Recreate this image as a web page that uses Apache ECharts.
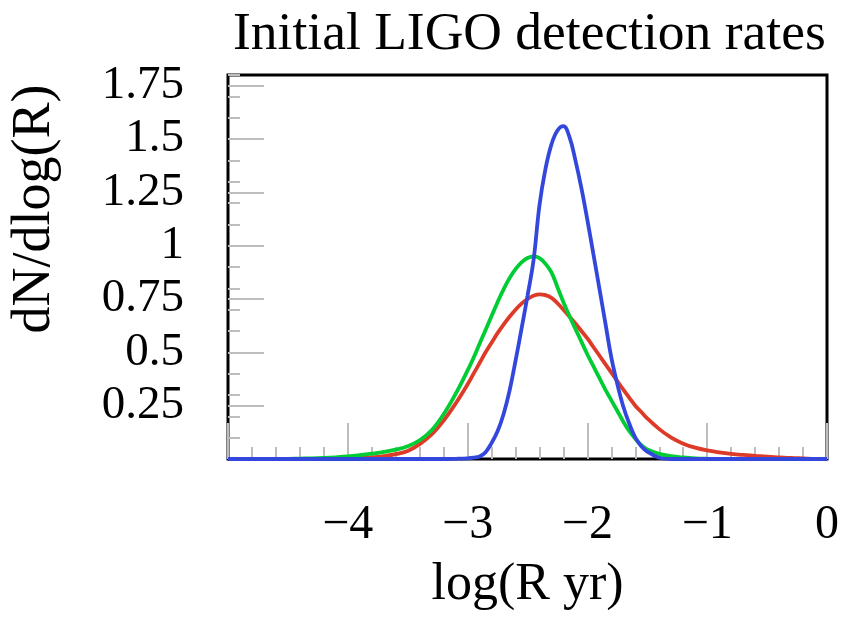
<!DOCTYPE html>
<html>
<head>
<meta charset="utf-8">
<title>Initial LIGO detection rates</title>
<script src="https://cdn.jsdelivr.net/npm/echarts@6/dist/echarts.min.js"></script>
<style>
  html, body { margin: 0; padding: 0; background: #fff; }
  #chart { width: 842px; height: 618px; }
</style>
</head>
<body>
<div id="chart"></div>
<script>
// log(R yr) sample points: step 0.1 on the tails, 0.05 round the peaks
const logR = [
  -5.0, -4.9, -4.8, -4.7, -4.6, -4.5, -4.4, -4.3, -4.2, -4.1,
  -4.0, -3.9, -3.8, -3.7, -3.6, -3.5, -3.4, -3.3, -3.2, -3.1,
  -3.0, -2.95, -2.9, -2.85, -2.8, -2.75, -2.7, -2.65, -2.6, -2.55,
  -2.5, -2.45, -2.4, -2.35, -2.3, -2.25, -2.2, -2.15, -2.1, -2.05,
  -2.0, -1.95, -1.9, -1.85, -1.8, -1.75, -1.7, -1.65, -1.6, -1.55,
  -1.5, -1.4, -1.3, -1.2, -1.1, -1.0, -0.9, -0.8, -0.7, -0.6,
  -0.5, -0.4, -0.3, -0.2, -0.1, 0.0
];

// dN/dlog(R)
const redRate = [
  0, 0, 0, 0, 0, 0, 0, 0.001, 0.001, 0.002,
  0.003, 0.005, 0.008, 0.014, 0.023, 0.038, 0.07, 0.115, 0.18, 0.26,
  0.35, 0.40, 0.45, 0.50, 0.545, 0.59, 0.63, 0.667, 0.70, 0.728,
  0.75, 0.765, 0.772, 0.768, 0.755, 0.73, 0.70, 0.668, 0.635, 0.60,
  0.565, 0.525, 0.485, 0.445, 0.405, 0.365, 0.325, 0.287, 0.25, 0.22,
  0.19, 0.14, 0.10, 0.072, 0.053, 0.04, 0.031, 0.024, 0.019, 0.015,
  0.011, 0.008, 0.005, 0.003, 0.001, 0
];
const greenRate = [
  0, 0, 0, 0, 0, 0.001, 0.002, 0.003, 0.005, 0.008,
  0.012, 0.018, 0.025, 0.033, 0.044, 0.06, 0.088, 0.135, 0.21, 0.305,
  0.415, 0.475, 0.54, 0.605, 0.67, 0.735, 0.795, 0.848, 0.89, 0.922,
  0.942, 0.95, 0.942, 0.915, 0.875, 0.805, 0.735, 0.67, 0.61, 0.55,
  0.49, 0.435, 0.38, 0.325, 0.275, 0.225, 0.175, 0.13, 0.095, 0.065,
  0.045, 0.024, 0.013, 0.007, 0.003, 0.001, 0, 0, 0, 0,
  0, 0, 0, 0, 0, 0
];
const blueRate = [
  0, 0, 0, 0, 0, 0, 0, 0, 0, 0,
  0, 0, 0, 0, 0, 0, 0, 0, 0, 0.001,
  0.003, 0.006, 0.012, 0.032, 0.075, 0.13, 0.21, 0.32, 0.46, 0.61,
  0.765, 0.93, 1.19, 1.36, 1.475, 1.54, 1.56, 1.51, 1.40, 1.27,
  1.12, 0.96, 0.80, 0.637, 0.475, 0.35, 0.245, 0.165, 0.10, 0.06,
  0.035, 0.006, 0, 0, 0, 0, 0, 0, 0, 0,
  0, 0, 0, 0, 0, 0
];

const serif = 'Liberation Serif';
const tickGrey = '#bdbdbd';

const pairs = (ys) => logR.map((x, i) => [x, ys[i]]);
const minus = (v) => (v < 0 ? '\u2212' + Math.abs(v) : String(v));

const curve = (name, color, ys) => ({
  name: name,
  type: 'line',
  data: pairs(ys),
  smooth: 0.4,
  showSymbol: false,
  lineStyle: { color: color, width: 3.8 },
  itemStyle: { color: color }
});

const chart = echarts.init(document.getElementById('chart'));
chart.setOption({
  animation: false,
  title: {
    text: 'Initial LIGO detection rates',
    left: 228,
    top: 3,
    textStyle: { fontFamily: serif, fontWeight: 'normal', fontSize: 53.5, color: '#000' }
  },
  grid: {
    left: 227, right: 12, top: 75, bottom: 159,
    show: true, borderColor: '#000', borderWidth: 3, backgroundColor: '#fff'
  },
  xAxis: {
    type: 'value',
    min: -5, max: 0, interval: 1,
    name: 'log(R yr)',
    nameLocation: 'middle',
    nameGap: 100,
    nameTextStyle: { fontFamily: serif, fontSize: 52, color: '#000' },
    axisLine: { show: false },
    axisTick: { inside: true, length: 36, lineStyle: { color: tickGrey, width: 2 } },
    minorTick: { show: true, splitNumber: 5, length: 12, lineStyle: { color: tickGrey, width: 2 } },
    splitLine: { show: false },
    axisLabel: {
      showMinLabel: false,
      margin: 42,
      formatter: minus,
      fontFamily: serif, fontSize: 48, color: '#000'
    }
  },
  yAxis: [
    {
      type: 'value',
      position: 'left',
      offset: 0,
      min: 0, max: 1.8, interval: 0.25,
      name: 'dN/dlog(R)',
      nameLocation: 'middle',
      nameGap: 166,
      nameTextStyle: { fontFamily: serif, fontSize: 54, color: '#000', padding: [0, 0, 0, 116] },
      axisLine: { show: false, onZero: false },
      axisTick: { show: true, inside: true, length: 36, lineStyle: { color: tickGrey, width: 2 } },
      splitLine: { show: false },
      axisLabel: {
        showMinLabel: false,
        showMaxLabel: false,
        margin: 44,
        fontFamily: serif, fontSize: 47, color: '#000'
      }
    },
    {
      // finer 0.1 tick marks along the left edge
      type: 'value',
      position: 'left',
      offset: 0,
      min: 0, max: 1.8, interval: 0.1,
      axisLine: { show: false, onZero: false },
      axisTick: { show: true, inside: true, length: 12, lineStyle: { color: tickGrey, width: 2 } },
      axisLabel: { show: false },
      splitLine: { show: false }
    }
  ],
  series: [
    curve('red', '#dd3a28', redRate),
    curve('green', '#00cc33', greenRate),
    curve('blue', '#3347dd', blueRate)
  ]
});
</script>
</body>
</html>
